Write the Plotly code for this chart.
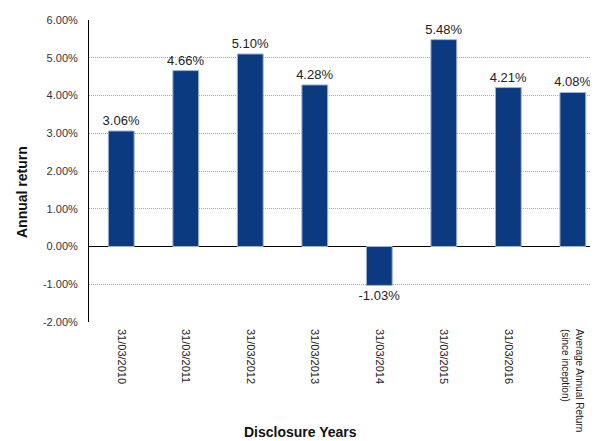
import plotly.graph_objects as go

categories = ["31/03/2010", "31/03/2011", "31/03/2012", "31/03/2013", "31/03/2014",
              "31/03/2015", "31/03/2016", "Average Annual Return (since inception)"]
tick_labels = ["31/03/2010", "31/03/2011", "31/03/2012", "31/03/2013", "31/03/2014",
               "31/03/2015", "31/03/2016",
               "<span style='font-size:10px'>Average Annual Return<br>(since inception)</span>"]
returns = [0.0306, 0.0466, 0.0510, 0.0428, -0.0103, 0.0548, 0.0421, 0.0408]
labels = ["3.06%", "4.66%", "5.10%", "4.28%", "-1.03%", "5.48%", "4.21%", "4.08%"]
ytick_vals = [-0.02, -0.01, 0, 0.01, 0.02, 0.03, 0.04, 0.05, 0.06]
ytick_text = ["-2.00%", "-1.00%", "0.00%", "1.00%", "2.00%", "3.00%", "4.00%", "5.00%", "6.00%"]

font_family = "Liberation Sans, Arial, sans-serif"

fig = go.Figure(go.Bar(
    x=categories, y=returns, text=labels, textposition="outside",
    constraintext="none",
    textfont=dict(size=13, color="#222222", family=font_family),
    marker=dict(color="#0b3a80", line=dict(color="#9fb3d3", width=1)),
    width=0.4, cliponaxis=False,
))

fig.add_annotation(text="<b>Annual return</b>", textangle=-90, xref="paper", yref="paper",
                   x=(22 - 89) / 509, y=(322 - 192) / 302, showarrow=False,
                   font=dict(size=14, color="#111111"), xanchor="center", yanchor="middle")
fig.add_annotation(text="<b>Disclosure Years</b>", xref="paper", yref="paper",
                   x=(300 - 89) / 509, y=-(432 - 322) / 302, showarrow=False,
                   font=dict(size=14, color="#111111"), xanchor="center", yanchor="middle")

fig.update_layout(
    width=590, height=433,
    margin=dict(l=81, r=0, t=12, b=119, autoexpand=False),
    plot_bgcolor="white", paper_bgcolor="white",
    font=dict(family=font_family, size=11, color="#222222"),
    showlegend=False,
    xaxis=dict(
        tickangle=90, showgrid=False, showline=False, ticks="",
        tickmode="array", tickvals=categories, ticktext=tick_labels,
        range=[-0.5, 7.39], tickfont=dict(size=11), ticklabelstandoff=6,
        automargin=False,
    ),
    yaxis=dict(
        range=[-0.02, 0.06], tickvals=ytick_vals, ticktext=ytick_text,
        showgrid=True, gridcolor="#a8a8a8", griddash="1px,1px", gridwidth=1,
        showline=True, linecolor="black", linewidth=1,
        zeroline=True, zerolinecolor="black", zerolinewidth=1,
        ticks="", tickfont=dict(size=11, color="#333333"), ticklabelstandoff=8,
        automargin=False,
    ),
)

fig.write_html("out.html")
